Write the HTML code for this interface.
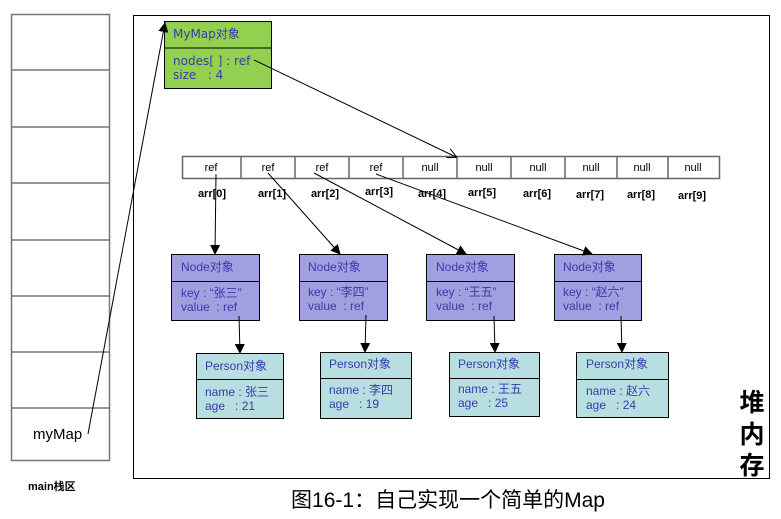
<!DOCTYPE html>
<html><head><meta charset="utf-8"><style>
body{margin:0;background:#fff;}
svg{display:block;}
text{font-family:"Liberation Sans","Noto Sans CJK SC",sans-serif;}
.t{fill:#3a3aa8;font-size:12px;font-family:"DejaVu Sans","Noto Sans CJK SC",sans-serif;}
.b{font-weight:bold;fill:#000;font-size:11px;}
</style></head><body>
<svg width="781" height="519" viewBox="0 0 781 519" xmlns="http://www.w3.org/2000/svg">
<defs><marker id="a" markerWidth="10" markerHeight="10" refX="9" refY="5" orient="auto" markerUnits="userSpaceOnUse"><path d="M0,0 L10,5 L0,10 z" fill="#000"/></marker>
<marker id="o" markerWidth="10" markerHeight="10" refX="9" refY="5" orient="auto" markerUnits="userSpaceOnUse"><path d="M0,0 L10,5 L0,10" fill="none" stroke="#000"/></marker></defs>
<rect x="11.5" y="14.5" width="98" height="446" fill="#fff" stroke="#777" stroke-width="1.5"/>
<g stroke="#777" stroke-width="1.5">
<line x1="11" y1="70" x2="110" y2="70"/><line x1="11" y1="127" x2="110" y2="127"/><line x1="11" y1="183" x2="110" y2="183"/><line x1="11" y1="240" x2="110" y2="240"/><line x1="11" y1="296" x2="110" y2="296"/><line x1="11" y1="352" x2="110" y2="352"/><line x1="11" y1="408" x2="110" y2="408"/></g>
<text x="33" y="439" font-size="15" fill="#000">myMap</text>
<text x="28" y="490" class="b" font-size="11">main栈区</text>
<rect x="133.5" y="15.5" width="636" height="463" fill="none" stroke="#000" stroke-width="1"/>
<text x="752" y="411" text-anchor="middle" font-size="25" font-weight="bold" fill="#000">堆</text>
<text x="752" y="443" text-anchor="middle" font-size="25" font-weight="bold" fill="#000">内</text>
<text x="752" y="474" text-anchor="middle" font-size="25" font-weight="bold" fill="#000">存</text>
<text x="448" y="507" text-anchor="middle" font-size="21" fill="#000">图16-1：自己实现一个简单的Map</text>
<rect x="164.5" y="21.5" width="107" height="67" fill="#92d050" stroke="#000"/>
<line x1="164" y1="48" x2="272" y2="48" stroke="#000"/>
<text x="173" y="38" class="t">MyMap对象</text>
<text x="173" y="65" class="t">nodes[ ] : ref</text>
<text x="173" y="79" class="t">size &#160;&#160;: 4</text>
<rect x="182.5" y="156.5" width="537" height="22" fill="#fff" stroke="#666" stroke-width="1.5"/>
<g stroke="#666" stroke-width="1.5">
<line x1="241" y1="156" x2="241" y2="179"/><line x1="295" y1="156" x2="295" y2="179"/><line x1="349" y1="156" x2="349" y2="179"/><line x1="403" y1="156" x2="403" y2="179"/><line x1="457" y1="156" x2="457" y2="179"/><line x1="511" y1="156" x2="511" y2="179"/><line x1="565" y1="156" x2="565" y2="179"/><line x1="617" y1="156" x2="617" y2="179"/><line x1="668" y1="156" x2="668" y2="179"/></g>
<g font-size="11" fill="#000" text-anchor="middle">
<text x="211" y="171">ref</text><text x="268" y="171">ref</text><text x="322" y="171">ref</text><text x="376" y="171">ref</text><text x="430" y="171">null</text><text x="484" y="171">null</text><text x="538" y="171">null</text><text x="591" y="171">null</text><text x="642" y="171">null</text><text x="693" y="171">null</text></g>
<g class="b" text-anchor="middle" font-size="12" font-weight="bold">
<text x="212" y="197">arr[0]</text><text x="272" y="197">arr[1]</text><text x="325" y="197">arr[2]</text><text x="379" y="195">arr[3]</text><text x="432" y="197">arr[4]</text><text x="482" y="196">arr[5]</text><text x="537" y="197">arr[6]</text><text x="590" y="198">arr[7]</text><text x="641" y="198">arr[8]</text><text x="692" y="199">arr[9]</text></g>
<g stroke="#000" fill="#a09fe0">
<rect x="171.5" y="254.5" width="88" height="66"/><rect x="299.5" y="254.5" width="88" height="66"/><rect x="426.5" y="254.5" width="88" height="66"/><rect x="554.5" y="254.5" width="87" height="66"/></g>
<g stroke="#000"><line x1="171" y1="281.5" x2="260" y2="281.5"/><line x1="299" y1="281.5" x2="388" y2="281.5"/><line x1="426" y1="281.5" x2="515" y2="281.5"/><line x1="554" y1="281.5" x2="642" y2="281.5"/></g>
<g class="t">
<text x="181" y="271">Node对象</text><text x="181" y="297">key :  “张三”</text><text x="181" y="311">value &#160;: ref</text>
<text x="308" y="271">Node对象</text><text x="308" y="296">key :  “李四”</text><text x="308" y="310">value &#160;: ref</text>
<text x="436" y="271">Node对象</text><text x="436" y="296">key :  “王五”</text><text x="436" y="310">value &#160;: ref</text>
<text x="563" y="271">Node对象</text><text x="563" y="296">key :  “赵六”</text><text x="563" y="310">value &#160;: ref</text></g>
<g stroke="#000" fill="#b7dfe1">
<rect x="196.5" y="353.5" width="87" height="65"/><rect x="320.5" y="352.5" width="91" height="66"/><rect x="449.5" y="352.5" width="90" height="64"/><rect x="576.5" y="352.5" width="92" height="65"/></g>
<g stroke="#000"><line x1="196" y1="379.5" x2="284" y2="379.5"/><line x1="320" y1="378.5" x2="412" y2="378.5"/><line x1="449" y1="378.5" x2="540" y2="378.5"/><line x1="576" y1="379.5" x2="669" y2="379.5"/></g>
<g class="t">
<text x="205" y="370">Person对象</text><text x="205" y="396">name : 张三</text><text x="205" y="410">age &#160;&#160;: 21</text>
<text x="329" y="368">Person对象</text><text x="329" y="394">name : 李四</text><text x="329" y="408">age &#160;&#160;: 19</text>
<text x="458" y="368">Person对象</text><text x="458" y="393">name : 王五</text><text x="458" y="407">age &#160;&#160;: 25</text>
<text x="586" y="368">Person对象</text><text x="586" y="395">name : 赵六</text><text x="586" y="409">age &#160;&#160;: 24</text></g>
<g stroke="#000" stroke-width="1" fill="none">
<line x1="88" y1="434" x2="165" y2="23" marker-end="url(#a)"/>
<line x1="254" y1="60" x2="456" y2="157" marker-end="url(#o)"/>
<line x1="216" y1="174" x2="215" y2="254" marker-end="url(#a)"/>
<line x1="268" y1="173" x2="340" y2="254" marker-end="url(#a)"/>
<line x1="314" y1="173" x2="466" y2="254" marker-end="url(#a)"/>
<line x1="376" y1="174" x2="592" y2="254" marker-end="url(#a)"/>
<line x1="239" y1="316" x2="240" y2="353" marker-end="url(#a)"/>
<line x1="366" y1="315" x2="365" y2="352" marker-end="url(#a)"/>
<line x1="494" y1="316" x2="495" y2="352" marker-end="url(#a)"/>
<line x1="621" y1="316" x2="622" y2="352" marker-end="url(#a)"/>
</g>
</svg>
</body></html>
